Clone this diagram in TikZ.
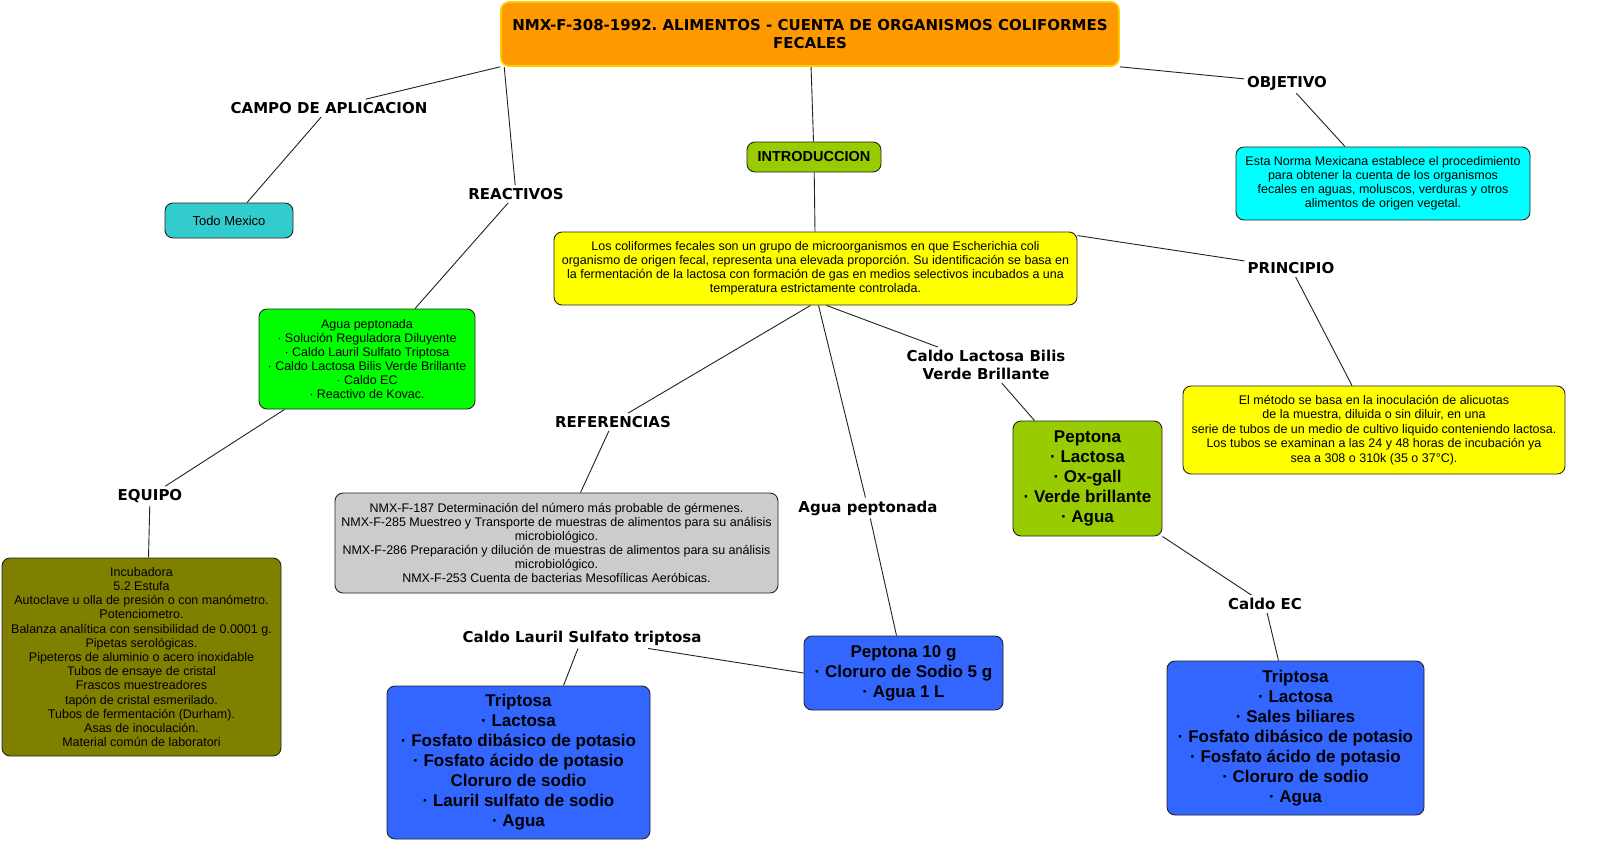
\documentclass[tikz,border=0pt]{standalone}
\usepackage{fontspec}
\setmainfont{Liberation Sans}
\newfontfamily\lblfont{DejaVu Sans}
\usetikzlibrary{calc}
\frenchspacing
\definecolor{ctitle}{HTML}{FF9900}
\definecolor{ctitleb}{HTML}{FFCC00}
\definecolor{cteal}{HTML}{33CCCC}
\definecolor{clime}{HTML}{99CC00}
\definecolor{cyel}{HTML}{FFFF00}
\definecolor{ccyan}{HTML}{00FFFF}
\definecolor{cgreen}{HTML}{00FF00}
\definecolor{colive}{HTML}{808000}
\definecolor{cgray}{HTML}{CCCCCC}
\definecolor{cblue}{HTML}{3366FF}
\definecolor{cline}{HTML}{222222}
\begin{document}
\begin{tikzpicture}[x=1pt,y=-1pt,
  box/.style={draw=cline, rounded corners=8pt, line width=0.9pt, inner sep=0pt, align=center, font=\frenchspacing\fontsize{12.5}{14}\selectfont},
  big/.style={font=\bfseries\fontsize{17}{20}\selectfont},
  lbl/.style={font=\lblfont\bfseries\fontsize{15}{18}\selectfont, inner sep=3pt, align=center},
  conn/.style={draw=cline, line width=0.9pt}]
\useasboundingbox[fill=white] (0,0) rectangle (1600,860);

% boxes
\node[box, fill=ctitle, draw=ctitleb, line width=1.6pt, minimum width=618, minimum height=64,
  font=\frenchspacing\lblfont\bfseries\fontsize{15}{18}\selectfont] (title) at (810,34)
  {NMX-F-308-1992. ALIMENTOS - CUENTA DE ORGANISMOS COLIFORMES\\FECALES};
\node[box, fill=cteal, minimum width=128, minimum height=35, font=\fontsize{13}{15}\selectfont] (todo) at (229,220.5) {Todo Mexico};
\node[box, fill=clime, minimum width=134, minimum height=30, font=\bfseries\fontsize{14.5}{16}\selectfont] (intro) at (814,157) {INTRODUCCION};
\node[box, fill=cyel, minimum width=523, minimum height=73] (introbox) at (815.5,268.5)
  {Los coliformes fecales son un grupo de microorganismos en que Escherichia coli\\
   organismo de origen fecal, representa una elevada proporción. Su identificación se basa en\\
   la fermentación de la lactosa con formación de gas en medios selectivos incubados a una\\
   temperatura estrictamente controlada.};
\node[box, fill=ccyan, minimum width=294, minimum height=73] (objbox) at (1383,183.5)
  {Esta Norma Mexicana establece el procedimiento\\
   para obtener la cuenta de los organismos\\
   fecales en aguas, moluscos, verduras y otros\\
   alimentos de origen vegetal.};
\node[box, fill=cgreen, minimum width=216, minimum height=100] (reacbox) at (367,359)
  {Agua peptonada\\
   · Solución Reguladora Diluyente\\
   · Caldo Lauril Sulfato Triptosa\\
   · Caldo Lactosa Bilis Verde Brillante\\
   · Caldo EC\\
   · Reactivo de Kovac.};
\node[box, fill=colive, minimum width=279, minimum height=198, font=\frenchspacing\fontsize{12.5}{14.2}\selectfont] (eqbox) at (141.5,657)
  {Incubadora\\
   5.2 Estufa\\
   Autoclave u olla de presión o con manómetro.\\
   Potenciometro.\\
   Balanza analítica con sensibilidad de 0.0001 g.\\
   Pipetas serológicas.\\
   Pipeteros de aluminio o acero inoxidable\\
   Tubos de ensaye de cristal\\
   Frascos muestreadores\\
   tapón de cristal esmerilado.\\
   Tubos de fermentación (Durham).\\
   Asas de inoculación.\\
   Material común de laboratori};
\node[box, fill=cgray, minimum width=443, minimum height=100] (refbox) at (556.5,543)
  {NMX-F-187 Determinación del número más probable de gérmenes.\\
   NMX-F-285 Muestreo y Transporte de muestras de alimentos para su análisis\\
   microbiológico.\\
   NMX-F-286 Preparación y dilución de muestras de alimentos para su análisis\\
   microbiológico.\\
   NMX-F-253 Cuenta de bacterias Mesofílicas Aeróbicas.};
\node[box, fill=cyel, minimum width=382, minimum height=88, font=\frenchspacing\fontsize{12.5}{14.5}\selectfont] (princbox) at (1374,430)
  {El método se basa en la inoculación de alicuotas\\
   de la muestra, diluida o sin diluir, en una\\
   serie de tubos de un medio de cultivo liquido conteniendo lactosa.\\
   Los tubos se examinan a las 24 y 48 horas de incubación ya\\
   sea a 308 o 310k (35 o 37°C).};
\node[box, big, fill=clime, minimum width=149, minimum height=115] (caldobox) at (1087.5,478.5)
  {Peptona\\ · Lactosa\\ · Ox-gall\\ · Verde brillante\\ · Agua};
\node[box, big, fill=cblue, minimum width=199, minimum height=74] (aguabox) at (903.5,673)
  {Peptona 10 g\\ · Cloruro de Sodio 5 g\\ · Agua 1 L};
\node[box, big, fill=cblue, minimum width=263, minimum height=153] (laurilbox) at (518.5,762.5)
  {Triptosa\\ · Lactosa\\ · Fosfato dibásico de potasio\\ · Fosfato ácido de potasio\\ Cloruro de sodio\\ · Lauril sulfato de sodio\\ · Agua};
\node[box, big, fill=cblue, minimum width=257, minimum height=154] (ecbox) at (1295.5,738)
  {Triptosa\\ · Lactosa\\ · Sales biliares\\ · Fosfato dibásico de potasio\\ · Fosfato ácido de potasio\\ · Cloruro de sodio\\ · Agua};

% labels
\node[lbl] (campo) at (329,108) {CAMPO DE APLICACION};
\node[lbl] (reac) at (516,194) {REACTIVOS};
\node[lbl] (obj) at (1287,83) {OBJETIVO};
\node[lbl] (princ) at (1291,268) {PRINCIPIO};
\node[lbl] (refs) at (613,422) {REFERENCIAS};
\node[lbl] (equipo) at (150,496) {EQUIPO};
\node[lbl] (caldo) at (986,365) {Caldo Lactosa Bilis\\Verde Brillante};
\node[lbl] (agua) at (868,508) {Agua peptonada};
\node[lbl] (ec) at (1265,604) {Caldo EC};
\node[lbl] (lauril) at (582,638) {Caldo Lauril Sulfato triptosa};

% connectors
\draw[conn] (title.south west) -- (campo);
\draw[conn] (campo) -- ($(todo.north)+(18,0)$);
\draw[conn] ($(title.south west)+(4,0)$) -- (reac);
\draw[conn] (reac) -- ($(reacbox.north)+(48,0)$);
\draw[conn] ($(reacbox.south west)+(26,0)$) -- (equipo);
\draw[conn] (equipo) -- ($(eqbox.north)+(7,0)$);
\draw[conn] (title) -- (intro);
\draw[conn] (intro) -- (introbox);
\draw[conn] (title.south east) -- (obj);
\draw[conn] (obj) -- ($(objbox.north)+(-38,0)$);
\draw[conn] ($(introbox.north east)+(0,4)$) -- (princ);
\draw[conn] (princ) -- ($(princbox.north)+(-22,0)$);
\draw[conn] ($(introbox.south)+(-5,0)$) -- (refs);
\draw[conn] (refs) -- ($(refbox.north)+(24,0)$);
\draw[conn] ($(introbox.south)+(3,0)$) -- (agua);
\draw[conn] (agua) -- ($(aguabox.north)+(-7,0)$);
\draw[conn] ($(introbox.south)+(11,0)$) -- (caldo);
\draw[conn] (caldo) -- ($(caldobox.north)+(-53,0)$);
\draw[conn] (caldobox.south east) -- (ec);
\draw[conn] (ec) -- ($(ecbox.north)+(-17,0)$);
\draw[conn] (aguabox.west) -- (lauril);
\draw[conn] (lauril) -- ($(laurilbox.north)+(45,0)$);
\end{tikzpicture}
\end{document}
